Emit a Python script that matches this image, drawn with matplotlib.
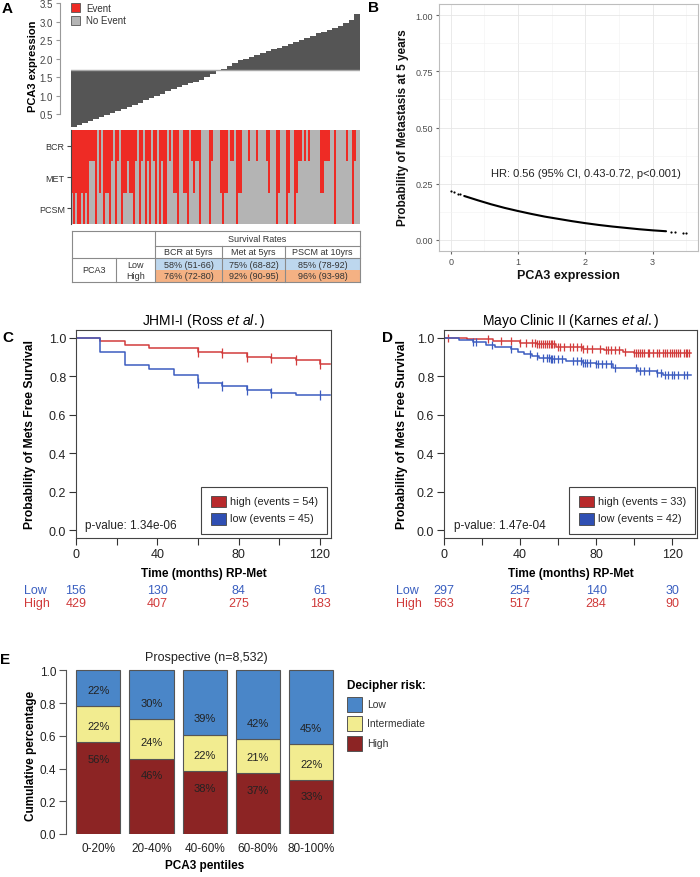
import numpy as np
import matplotlib
matplotlib.use('Agg')
import matplotlib.pyplot as plt
from matplotlib.patches import Rectangle
from matplotlib.colors import ListedColormap
import matplotlib.transforms as mtransforms

plt.rcParams['font.family'] = ['Liberation Sans', 'DejaVu Sans']
plt.rcParams['mathtext.fontset'] = 'custom'
plt.rcParams['mathtext.rm'] = 'Liberation Sans'
plt.rcParams['mathtext.it'] = 'Liberation Sans:italic'
plt.rcParams['mathtext.bf'] = 'Liberation Sans:bold'

# ------------------------------------------------------------------ data
# Panel A - PCA3 waterfall (sorted expression, blocks of patients)
pca3_waterfall = [0.16, 0.22, 0.27, 0.31, 0.36, 0.42, 0.48, 0.53, 0.58, 0.64,
                  0.70, 0.76, 0.81, 0.88, 0.94, 1.00, 1.06, 1.12, 1.17, 1.23,
                  1.28, 1.33, 1.38, 1.43, 1.50, 1.58, 1.66, 1.72, 1.80, 1.88,
                  1.95, 2.00, 2.05, 2.10, 2.15, 2.20, 2.25, 2.30, 2.35, 2.40,
                  2.46, 2.51, 2.56, 2.62, 2.68, 2.73, 2.78, 2.83, 2.88, 2.95,
                  3.05, 3.20]
waterfall_baseline = 1.7
# event depth per patient: 0 none, 1 BCR, 2 BCR+MET, 3 BCR+MET+PCSM
event_depth = ("2323323231" "1130203223" "1031032212" "2310310313" "0130313"
               "3010223002" "2301211300" "0031000232" "2011032200" "010001000"
               "0120003200" "0320032110" "1010000022" "1110030000" "01003100")
heat_rows = ['BCR', 'MET', 'PCSM']
legend_a = ['Event', 'No Event']
table_header = 'Survival Rates'
table_cols = ['BCR at 5yrs', 'Met at 5yrs', 'PSCM at 10yrs']
table_groups = ['Low', 'High']
table_low = ['58% (51-66)', '75% (68-82)', '85% (78-92)']
table_high = ['76% (72-80)', '92% (90-95)', '96% (93-98)']

# Panel B - predicted probability of metastasis at 5 years
b_x = [0.2, 0.4, 0.6, 0.8, 1.0, 1.2, 1.4, 1.6, 1.8, 2.0, 2.2, 2.4, 2.6, 2.8, 3.0, 3.2]
b_y = [0.195, 0.176, 0.158, 0.142, 0.128, 0.115, 0.103, 0.093, 0.083, 0.074,
       0.066, 0.059, 0.053, 0.047, 0.042, 0.038]
b_sparse_x = [0.0, 0.05, 0.10, 0.14, 3.27, 3.33, 3.45, 3.50]
b_sparse_y = [0.215, 0.211, 0.206, 0.203, 0.036, 0.035, 0.032, 0.031]
b_text = 'HR: 0.56 (95% CI, 0.43-0.72, p<0.001)'

# Panel C - JHMI-I KM
c_high_t = [0, 12, 24, 36, 48, 60, 72, 84, 96, 108, 120]
c_high_s = [1.0, 0.983, 0.964, 0.949, 0.944, 0.926, 0.920, 0.902, 0.894, 0.884, 0.862]
c_low_t = [0, 12, 24, 36, 48, 60, 72, 84, 96, 108]
c_low_s = [1.0, 0.926, 0.859, 0.835, 0.805, 0.764, 0.747, 0.726, 0.711, 0.700]
c_high_cens = [60, 72, 84, 96, 108, 120]
c_low_cens = [60, 72, 84, 96, 120]
c_end = 125
c_risk_t = [0, 40, 80, 120]
c_risk_low = [156, 130, 84, 61]
c_risk_high = [429, 407, 275, 183]
c_legend = ['high (events = 54)', 'low (events = 45)']
c_p = 'p-value: 1.34e-06'

# Panel D - Mayo Clinic II KM
d_high_t = [0, 5, 12, 26, 40, 49, 59, 73, 84, 94, 100]
d_high_s = [1.0, 0.996, 0.991, 0.981, 0.974, 0.966, 0.953, 0.940, 0.934, 0.926, 0.922]
d_low_t = [0, 8, 15, 22, 27, 35, 39, 42, 46, 50, 56, 64, 73, 80, 89, 102, 112, 115]
d_low_s = [1.0, 0.988, 0.978, 0.964, 0.953, 0.940, 0.926, 0.917, 0.905, 0.897,
           0.888, 0.878, 0.871, 0.862, 0.845, 0.828, 0.816, 0.805]
d_high_cens = [2, 23, 30, 35, 40, 43, 46, 48, 49, 50, 51, 52, 53, 54, 55, 56, 57, 58,
               60, 61, 63, 66, 68, 70, 72, 73, 75, 78, 82, 85, 86, 88, 90, 92, 95,
               100, 101, 102, 103, 104, 105, 107, 108, 110, 112, 113, 115, 116, 117,
               119, 120, 121, 122, 123, 124, 126, 127, 128, 129]
d_low_cens = [15, 17, 25, 35, 45, 49, 52, 54, 55, 56, 57, 58, 60, 62, 68, 70, 72, 73,
              74, 75, 77, 80, 81, 83, 85, 88, 90, 101, 103, 105, 108, 112, 114, 116,
              118, 120, 121, 123, 126, 128]
d_end = 130
d_risk_t = [0, 40, 80, 120]
d_risk_low = [297, 254, 140, 30]
d_risk_high = [563, 517, 284, 90]
d_legend = ['high (events = 33)', 'low (events = 42)']
d_p = 'p-value: 1.47e-04'

# Panel E - Decipher risk by PCA3 pentile
e_cats = ['0-20%', '20-40%', '40-60%', '60-80%', '80-100%']
e_high = [56, 46, 38, 37, 33]
e_inter = [22, 24, 22, 21, 22]
e_low = [22, 30, 39, 42, 45]
e_legend = ['Low', 'Intermediate', 'High']
e_title = 'Prospective (n=8,532)'

# ------------------------------------------------------------------ figure
W, H = 700, 878
fig = plt.figure(figsize=(7, 8.78), dpi=100)


def ax_px(l, t, r, b, **kw):
    return fig.add_axes([l / W, 1 - b / H, (r - l) / W, (b - t) / H], **kw)


RED_KM = '#d23c3c'
BLUE_KM = '#3c5cc0'
RED_LEG = '#b8292b'
BLUE_LEG = '#2f4fb3'
TXT_RED = '#d03a3a'
TXT_BLUE = '#3a5fc0'

# ---------------- Panel A waterfall
axw = ax_px(71, 4, 360, 129)
vals = np.array(pca3_waterfall)
xs = np.arange(len(vals))
axw.bar(xs, vals - waterfall_baseline, bottom=waterfall_baseline, width=1.0,
        color='#555555', linewidth=0)
axw.axhline(waterfall_baseline, color='#a8a8a8', lw=1, zorder=3)
axw.set_xlim(-0.5, len(vals) - 0.5)
axw.set_ylim(0.13, 3.5)
for s in ['top', 'right', 'bottom']:
    axw.spines[s].set_visible(False)
axw.spines['left'].set_position(('outward', 8))
axw.spines['left'].set_bounds(0.5, 3.5)
axw.spines['left'].set_color('#999999')
yt = np.arange(0.5, 3.51, 0.5)
axw.set_yticks(yt)
axw.set_yticklabels(['%.1f' % v for v in yt], fontsize=7, color='#444444')
axw.tick_params(axis='y', length=3, color='#999999', pad=2)
axw.set_xticks([])

# ---------------- Panel A heatmap
depth = np.array([int(c) for c in event_depth])
mat = np.array([(depth > r).astype(int) for r in range(len(heat_rows))])
axh = ax_px(71, 131, 360, 225)
axh.imshow(mat, aspect='auto', cmap=ListedColormap(['#b4b4b4', '#ee2b25']),
           interpolation='nearest', vmin=0, vmax=1)
for s in ['top', 'right', 'bottom']:
    axh.spines[s].set_visible(False)
axh.spines['left'].set_color('#444444')
axh.set_yticks(range(len(heat_rows)))
axh.set_yticklabels(heat_rows, fontsize=6.5, color='#333333')
axh.tick_params(axis='y', length=3, pad=1.5, color='#444444')
axh.set_xticks([])

# ---------------- Panel B
axb = ax_px(439, 5, 698, 252)
axb.set_xlim(-0.175, 3.675)
axb.set_ylim(-0.05, 1.05)
axb.set_xticks([0, 1, 2, 3])
axb.set_xticks([0.5, 1.5, 2.5, 3.5], minor=True)
axb.set_yticks([0, 0.25, 0.5, 0.75, 1.0])
axb.set_yticks([0.125, 0.375, 0.625, 0.875], minor=True)
axb.set_yticklabels(['0.00', '0.25', '0.50', '0.75', '1.00'])
axb.grid(which='major', color='#e6e6e6', lw=0.6)
axb.grid(which='minor', color='#f2f2f2', lw=0.4)
axb.set_axisbelow(True)
for s in axb.spines.values():
    s.set_color('#bdbdbd')
    s.set_linewidth(0.8)
axb.tick_params(which='major', length=2.5, color='#666666', labelsize=6.5,
                labelcolor='#4d4d4d', pad=2)
axb.tick_params(which='minor', length=0)
axb.plot(b_x, b_y, color='black', lw=1.5, solid_capstyle='round')
axb.scatter(b_sparse_x, b_sparse_y, s=2.5, color='black', linewidths=0)
axb.text(0.6, 0.298, b_text, fontsize=8, color='#222222', va='center', ha='left')


# ---------------- KM helper
def km(ax, t, s, end, color, cens, ms):
    tt = list(t) + [end]
    ss = list(s) + [s[-1]]
    ax.step(tt, ss, where='post', color=color, lw=1.1)
    idx = np.searchsorted(np.array(t), np.array(cens), side='right') - 1
    ax.plot(cens, np.array(s)[idx], ls='none', marker='|', ms=ms, mew=0.9, color=color)


def km_axes(ax, xmax):
    ax.set_xlim(0, xmax)
    ax.set_ylim(-0.04, 1.04)
    ax.set_yticks(np.arange(0, 1.01, 0.2))
    ax.set_yticklabels(['%.1f' % v for v in np.arange(0, 1.01, 0.2)])
    ax.set_xticks(np.arange(0, 121, 20))
    ax.set_xticklabels(['0', '', '40', '', '80', '', '120'])
    ax.tick_params(length=5, width=0.8, labelsize=9, color='#333333',
                   labelcolor='#222222', pad=2)
    for s in ax.spines.values():
        s.set_color('#444444')
        s.set_linewidth(0.8)


# ---------------- Panel C
axc = ax_px(76, 331, 331, 539)
km_axes(axc, 125.4)
km(axc, c_high_t, c_high_s, c_end, RED_KM, c_high_cens, 7)
km(axc, c_low_t, c_low_s, c_end, BLUE_KM, c_low_cens, 7)
axc.text(4.4, 0.03, c_p, fontsize=8.5, va='center', ha='left', color='#222222')
trc = mtransforms.blended_transform_factory(axc.transData, fig.transFigure)
for t, lo, hi in zip(c_risk_t, c_risk_low, c_risk_high):
    axc.text(t, 1 - 591 / H, str(lo), transform=trc, ha='center', va='center',
             fontsize=9, color=TXT_BLUE)
    axc.text(t, 1 - 604 / H, str(hi), transform=trc, ha='center', va='center',
             fontsize=9, color=TXT_RED)

# ---------------- Panel D
axd = ax_px(444, 331, 697, 539)
km_axes(axd, 133)
km(axd, d_high_t, d_high_s, d_end, RED_KM, d_high_cens, 5.5)
km(axd, d_low_t, d_low_s, d_end, BLUE_KM, d_low_cens, 5.5)
axd.text(5.3, 0.03, d_p, fontsize=8.5, va='center', ha='left', color='#222222')
trd = mtransforms.blended_transform_factory(axd.transData, fig.transFigure)
for t, lo, hi in zip(d_risk_t, d_risk_low, d_risk_high):
    axd.text(t, 1 - 591 / H, str(lo), transform=trd, ha='center', va='center',
             fontsize=9, color=TXT_BLUE)
    axd.text(t, 1 - 604 / H, str(hi), transform=trd, ha='center', va='center',
             fontsize=9, color=TXT_RED)

# ---------------- Panel E
axe = ax_px(66, 668, 340, 835)
tot = np.array(e_high) + np.array(e_inter) + np.array(e_low)
fh = np.array(e_high) / tot
fi = np.array(e_inter) / tot
fl = np.array(e_low) / tot
xe = np.arange(len(e_cats))
bw = 1 / 1.2
axe.bar(xe, fh, width=bw, color='#8c2424', edgecolor='#555555', lw=0.8)
axe.bar(xe, fi, width=bw, bottom=fh, color='#f2ec90', edgecolor='#555555', lw=0.8)
axe.bar(xe, fl, width=bw, bottom=fh + fi, color='#4a86c8', edgecolor='#555555', lw=0.8)
for i in range(len(e_cats)):
    axe.text(xe[i], fh[i] - 0.1, '%d%%' % e_high[i], ha='center', va='center',
             fontsize=8, color='#222222')
    axe.text(xe[i], fh[i] + 0.1, '%d%%' % e_inter[i], ha='center', va='center',
             fontsize=8, color='#222222')
    axe.text(xe[i], fh[i] + fi[i] + 0.1, '%d%%' % e_low[i], ha='center', va='center',
             fontsize=8, color='#222222')
axe.set_xlim(-0.607, 4.54)
axe.set_ylim(0, 1.02)
for s in ['top', 'right', 'bottom']:
    axe.spines[s].set_visible(False)
axe.spines['left'].set_bounds(0, 1)
axe.spines['left'].set_color('#555555')
axe.set_yticks(np.arange(0, 1.01, 0.2))
axe.set_yticklabels(['%.1f' % v for v in np.arange(0, 1.01, 0.2)])
axe.set_xticks(xe)
axe.set_xticklabels(e_cats)
axe.tick_params(axis='y', length=5, labelsize=8.5, color='#555555', labelcolor='#222222', pad=2)
axe.tick_params(axis='x', length=0, labelsize=8.5, labelcolor='#222222', pad=6)

# ---------------- overlay (pixel coordinates) for labels, legends, table
ov = fig.add_axes([0, 0, 1, 1], zorder=10)
ov.set_xlim(0, W)
ov.set_ylim(H, 0)
ov.axis('off')
ov.patch.set_visible(False)

# panel letters
for letter, (x, y) in zip('ABCDE', [(2, 9), (368, 8), (2, 338), (382, 338), (0, 660)]):
    ov.text(x, y, letter, fontsize=11, fontweight='bold', ha='left', va='center')

# Panel A labels / legend
ov.text(33, 66, 'PCA3 expression', rotation=90, fontsize=8, fontweight='bold',
        ha='center', va='center')
ov.add_patch(Rectangle((71, 4), 9, 9, facecolor='#ee2b25', edgecolor='#555555', lw=0.6))
ov.add_patch(Rectangle((71, 17), 9, 9, facecolor='#b4b4b4', edgecolor='#555555', lw=0.6))
ov.text(86, 8.5, legend_a[0], fontsize=7, va='center', color='#333333')
ov.text(86, 21.5, legend_a[1], fontsize=7, va='center', color='#333333')

# Panel A table
lc = '#8a8a8a'
ov.add_patch(Rectangle((155, 259), 205, 12, facecolor='#bdd7ee', lw=0))
ov.add_patch(Rectangle((155, 271), 205, 12, facecolor='#f4b183', lw=0))
lines_h = [(72, 360, 232), (155, 360, 247), (72, 360, 259), (72, 360, 283)]
lines_v = [(72, 232, 283), (155, 232, 283), (116, 259, 283), (222, 247, 283),
           (285, 247, 283), (360, 232, 283)]
for x0, x1, y in lines_h:
    ov.plot([x0, x1], [y, y], color=lc, lw=0.8)
for x, y0, y1 in lines_v:
    ov.plot([x, x], [y0, y1], color=lc, lw=0.8)
tfs = 6.5
ov.text(257.5, 240, table_header, fontsize=tfs, ha='center', va='center', color='#333333')
for cx, lab, lo, hi in zip([188.5, 253.5, 322.5], table_cols, table_low, table_high):
    ov.text(cx, 253, lab, fontsize=tfs, ha='center', va='center', color='#333333')
    ov.text(cx, 265.5, lo, fontsize=tfs, ha='center', va='center', color='#333333')
    ov.text(cx, 277, hi, fontsize=tfs, ha='center', va='center', color='#333333')
ov.text(94, 271, 'PCA3', fontsize=tfs, ha='center', va='center', color='#333333')
ov.text(136, 265.5, table_groups[0], fontsize=tfs, ha='center', va='center', color='#333333')
ov.text(136, 277, table_groups[1], fontsize=tfs, ha='center', va='center', color='#333333')

# Panel B labels
ov.text(403, 128, 'Probability of Metastasis at 5 years', rotation=90, fontsize=8.5,
        fontweight='bold', ha='center', va='center', color='#111111')
ov.text(568, 276, 'PCA3 expression', fontsize=9, fontweight='bold', ha='center',
        va='center', color='#111111')

# Panel C / D titles, axis labels, legends, risk-table labels
ov.text(203.5, 321, r'JHMI-I (Ross $\mathit{et\ al.}$)', fontsize=10, ha='center', va='center')
ov.text(570.5, 321, r'Mayo Clinic II (Karnes $\mathit{et\ al.}$)', fontsize=10,
        ha='center', va='center')
for x in (30, 402):
    ov.text(x, 435, 'Probability of Mets Free Survival', rotation=90, fontsize=8.7,
            fontweight='bold', ha='center', va='center')
ov.text(203.5, 574, 'Time (months) RP-Met', fontsize=8.6, fontweight='bold', ha='center', va='center')
ov.text(570.5, 574, 'Time (months) RP-Met', fontsize=8.6, fontweight='bold', ha='center', va='center')
for x in (24, 396):
    ov.text(x, 591, 'Low', fontsize=9, color=TXT_BLUE, ha='left', va='center')
    ov.text(x, 604, 'High', fontsize=9, color=TXT_RED, ha='left', va='center')

for (bx0, bx1, sqx), labels in zip([(201, 327, 211), (569, 695, 579)], [c_legend, d_legend]):
    ov.add_patch(Rectangle((bx0, 488), bx1 - bx0, 47, facecolor='white',
                           edgecolor='#444444', lw=0.8))
    ov.add_patch(Rectangle((sqx, 496.5), 15, 11, facecolor=RED_LEG, edgecolor='#444444', lw=0.6))
    ov.add_patch(Rectangle((sqx, 513.5), 15, 12, facecolor=BLUE_LEG, edgecolor='#444444', lw=0.6))
    ov.text(sqx + 19, 502, labels[0], fontsize=7.8, va='center', color='#222222')
    ov.text(sqx + 19, 519.5, labels[1], fontsize=7.8, va='center', color='#222222')

# Panel E labels / legend
ov.text(206, 658, e_title, fontsize=9, ha='center', va='center', color='#222222')
ov.text(31, 756, 'Cumulative percentage', rotation=90, fontsize=8.5, fontweight='bold',
        ha='center', va='center')
ov.text(205, 866, 'PCA3 pentiles', fontsize=8.5, fontweight='bold', ha='center', va='center')
ov.text(347, 686, 'Decipher risk:', fontsize=8.5, fontweight='bold', ha='left', va='center')
for (y0, col), lab in zip([(698, '#4a86c8'), (717, '#f2ec90'), (737, '#8c2424')], e_legend):
    ov.add_patch(Rectangle((347, y0), 14.5, 14.5, facecolor=col, edgecolor='#555555', lw=0.7))
    ov.text(367, y0 + 7.5, lab, fontsize=7.5, va='center', color='#333333')

fig.savefig('out.png', dpi=100)
